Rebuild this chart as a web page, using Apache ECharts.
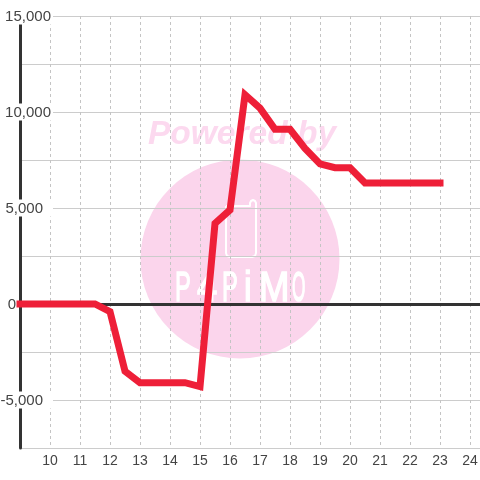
<!DOCTYPE html>
<html><head><meta charset="utf-8">
<style>html,body{margin:0;padding:0;background:#fff}#c{width:480px;height:480px}</style>
<script src="https://cdn.jsdelivr.net/npm/echarts@6/dist/echarts.min.js"></script>
</head><body><div id="c"></div>
<script>
var hours = [9,9.5,10,10.5,11,11.5,12,12.5,13,13.5,14,14.5,15,15.5,16,16.5,17,17.5,18,18.5,19,19.5,20,20.5,21,21.5,22,22.5,23];
var values = [0,0,0,0,0,0,-400,-3500,-4100,-4100,-4100,-4100,-4300,4200,4900,10900,10200,9100,9100,8100,7300,7100,7100,6300,6300,6300,6300,6300,6300];
var yMin=-7500, yMax=15000, yStep=2500, xMin=9, xMax=9+460/30;
var font='"Liberation Sans", Arial, sans-serif';
var ch=echarts.init(document.getElementById('c'));
function lab(v){
  if(v%5000!==0) return '';
  var s=Math.abs(v).toLocaleString('en-US'); if(v<0) s='-'+s;
  var k = v===0?'z':(Math.abs(v)>=10000?'w':'n');
  return '{'+k+'|'+s+'}';
}
var base={fontFamily:font,fontSize:15,color:'#444',lineHeight:16};
var logo=[['P',175,.55],['4',197,.85],['P',222,.55],['i',244,.8],['M',259,.85],['O',292,.4]];
var phone=[[226,206],[250,206],[250,203],[251,201],[253,200],[255,201],[256,203],[256,253],[255,256],[252,257],[230,257],[227,256],[226,253],[226,206]];
ch.setOption({
  animation:false,
  backgroundColor:'#fff',
  grid:{left:20,right:0,top:16,bottom:32,containLabel:false,outerBoundsMode:'none'},
  graphic:[
    {type:'circle',z:-10,shape:{cx:240,cy:259,r:99.5},style:{fill:'#fbd5ec'}},
    {type:'text',z:-9,x:148,y:118,style:{text:'Powered by',font:'italic bold 33.5px '+font,fill:'#fcd9ef'}},
    {type:'polyline',z:-9,shape:{points:phone},style:{fill:'none',stroke:'#fff',lineWidth:2,lineJoin:'round'}}
  ].concat(logo.map(function(l){
    return {type:'text',z:-9,x:l[1],y:268,scaleX:l[2],style:{text:l[0],font:'43px '+font,fill:'#fff',stroke:'#fff',lineWidth:1.5}};
  })),
  xAxis:[
    {type:'value',min:xMin,max:xMax,interval:1,position:'bottom',
     axisLine:{show:false,onZero:false},axisTick:{show:false},
     axisLabel:{fontFamily:font,fontSize:14,color:'#444',margin:6,showMinLabel:false,showMaxLabel:false,
       formatter:function(v){return Number.isInteger(v)&&v>=10?String(v):'';}},
     splitLine:{show:true,lineStyle:{color:'#c4c4c4',width:1,type:[3,3]}}},
    {type:'value',min:xMin,max:xMax,interval:1,position:'bottom',
     axisLine:{show:true,onZero:true,onZeroAxisIndex:0,lineStyle:{color:'#333',width:3}},
     axisTick:{show:false},axisLabel:{show:false},splitLine:{show:false}}
  ],
  yAxis:{type:'value',min:yMin,max:yMax,interval:yStep,position:'left',
    axisLine:{show:true,onZero:false,lineStyle:{color:'#333',width:3}},
    axisTick:{show:false},
    splitLine:{show:true,lineStyle:{color:'#ccc',width:1}},
    axisLabel:{show:true,align:'right',margin:-33,showMinLabel:true,showMaxLabel:true,formatter:lab,
      rich:{
        w:Object.assign({},base,{backgroundColor:'#fff',padding:[2,2,0,0]}),
        n:Object.assign({},base,{backgroundColor:'#fff',padding:[2,10,0,0]}),
        z:Object.assign({},base,{padding:[2,37,0,0]})
      }}
  },
  series:[{type:'line',xAxisIndex:0,yAxisIndex:0,data:hours.map(function(h,i){return [h,values[i]];}),
    showSymbol:false,symbol:'none',clip:false,z:10,
    lineStyle:{color:'#ee1f38',width:7,cap:'square',join:'miter'}}]
});
</script></body></html>
